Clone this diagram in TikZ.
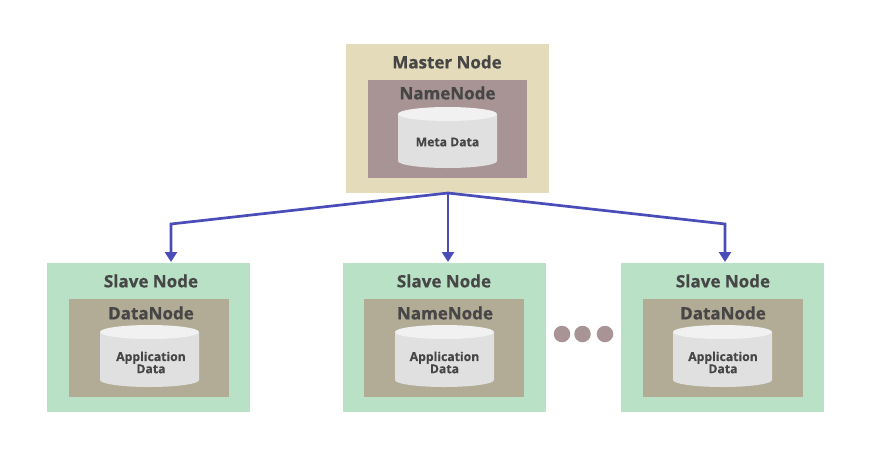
\documentclass[tikz,border=0pt]{standalone}
\usepackage{fontspec}
\setmainfont{Open Sans}[BoldFeatures={FakeBold=0.6}]
\usetikzlibrary{arrows.meta}
\definecolor{masterbg}{HTML}{E3DBB9}
\definecolor{nameinner}{HTML}{A89494}
\definecolor{slavebg}{HTML}{B9E1C5}
\definecolor{datainner}{HTML}{B2AB95}
\definecolor{cylbody}{HTML}{E0E0E0}
\definecolor{cyltop}{HTML}{F1F1F1}
\definecolor{ink}{HTML}{464646}
\definecolor{link}{HTML}{4A4DB8}
\tikzset{
  outerbox/.style={minimum width=203pt,minimum height=149pt,inner sep=0pt,anchor=north west},
  innerbox/.style={minimum width=160pt,minimum height=98pt,inner sep=0pt,anchor=north west},
  title/.style={font=\bfseries\fontsize{17}{19}\selectfont,text=ink,inner sep=0pt},
  subtitle/.style={font=\bfseries\fontsize{17}{19}\selectfont,text=ink,inner sep=0pt},
  dblabel/.style={font=\bfseries\fontsize{12.2}{12.2}\selectfont,text=ink,align=center,inner sep=0pt},
  dot/.style={circle,fill=nameinner,minimum size=16.5pt,inner sep=0pt},
  linkline/.style={draw=link,line width=2.7pt,-{Triangle[length=10pt,width=12pt]}}
}
% \dbdraw{centre x}{top ellipse centre y}{lower ellipse centre y}
\newcommand{\dbdraw}[3]{%
  \fill[cylbody] (#1-49.5,#2) -- (#1-49.5,#3) arc[start angle=180,end angle=0,x radius=49.5,y radius=7] -- (#1+49.5,#2) -- cycle;
  \fill[cyltop] (#1,#2) ellipse[x radius=49.5,y radius=7];
}
\begin{document}
\begin{tikzpicture}[x=1pt,y=-1pt]
\useasboundingbox (0,0) rectangle (872,472);
% master
\node[outerbox,fill=masterbg] (master) at (346,44) {};
\node[innerbox,fill=nameinner,minimum width=159pt] (mname) at (368,80) {};
\node[title] (mtitle) at (447,62) {Master Node};
\node[subtitle] (msub) at (447.5,93) {NameNode};
\dbdraw{447.5}{114}{161}
\node[dblabel] (mtext) at (447.5,142) {Meta Data};
% left slave
\node[outerbox,fill=slavebg] (s1) at (47,263) {};
\node[innerbox,fill=datainner] (s1i) at (69,299) {};
\node[title] (s1t) at (151,281) {Slave Node};
\node[subtitle] (s1s) at (151,313) {DataNode};
\dbdraw{149.5}{332}{380}
\node[dblabel] (s1x) at (151,362.5) {Application\\Data};
% middle slave
\node[outerbox,fill=slavebg] (s2) at (343,263) {};
\node[innerbox,fill=datainner] (s2i) at (364,299) {};
\node[title] (s2t) at (444,281) {Slave Node};
\node[subtitle] (s2s) at (445,313) {NameNode};
\dbdraw{444.5}{332}{380}
\node[dblabel] (s2x) at (444.5,362.5) {Application\\Data};
% right slave
\node[outerbox,fill=slavebg] (s3) at (621,263) {};
\node[innerbox,fill=datainner] (s3i) at (643,299) {};
\node[title] (s3t) at (723,281) {Slave Node};
\node[subtitle] (s3s) at (723,313) {DataNode};
\dbdraw{722.5}{332}{380}
\node[dblabel] (s3x) at (723,362.5) {Application\\Data};
% dots
\node[dot] (d1) at (562,334) {};
\node[dot] (d2) at (582.5,334) {};
\node[dot] (d3) at (605,334) {};
% connectors
\coordinate (hub) at (448,193);
\coordinate (b1) at (171,224);
\coordinate (e1) at (171,262);
\coordinate (e2) at (448,262);
\coordinate (b3) at (725,224);
\coordinate (e3) at (725,262);
\draw[linkline] (hub) -- (b1) -- (e1);
\draw[linkline] (hub) -- (e2);
\draw[linkline] (hub) -- (b3) -- (e3);
\end{tikzpicture}
\end{document}
